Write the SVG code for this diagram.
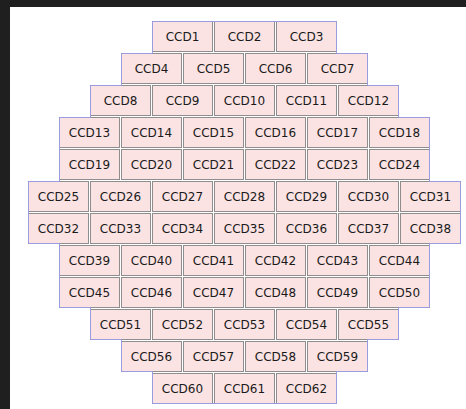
<svg xmlns="http://www.w3.org/2000/svg" width="466" height="409" viewBox="0 0 466 409">
<style>
.b{fill:#fce3e3;stroke:#8e8e8e;stroke-width:1}
.t{font-family:"DejaVu Sans","Liberation Sans",sans-serif;font-size:12px;fill:#1a1a1a;text-anchor:middle}
</style>
<rect x="0" y="0" width="466" height="409" fill="#ffffff"/>
<rect x="0" y="0" width="466" height="7" fill="#1f1f1f"/>
<rect x="0" y="0" width="10" height="409" fill="#1f1f1f"/>
<g id="CCD1"><rect class="b" x="152.5" y="21.5" width="60" height="30"/><text class="t" x="182.5" y="41">CCD1</text></g>
<g id="CCD2"><rect class="b" x="214.5" y="21.5" width="60" height="30"/><text class="t" x="244.5" y="41">CCD2</text></g>
<g id="CCD3"><rect class="b" x="276.5" y="21.5" width="60" height="30"/><text class="t" x="306.5" y="41">CCD3</text></g>
<g id="CCD4"><rect class="b" x="121.5" y="53.5" width="60" height="30"/><text class="t" x="151.5" y="73">CCD4</text></g>
<g id="CCD5"><rect class="b" x="183.5" y="53.5" width="60" height="30"/><text class="t" x="213.5" y="73">CCD5</text></g>
<g id="CCD6"><rect class="b" x="245.5" y="53.5" width="60" height="30"/><text class="t" x="275.5" y="73">CCD6</text></g>
<g id="CCD7"><rect class="b" x="307.5" y="53.5" width="60" height="30"/><text class="t" x="337.5" y="73">CCD7</text></g>
<g id="CCD8"><rect class="b" x="90.5" y="85.5" width="60" height="30"/><text class="t" x="120.5" y="105">CCD8</text></g>
<g id="CCD9"><rect class="b" x="152.5" y="85.5" width="60" height="30"/><text class="t" x="182.5" y="105">CCD9</text></g>
<g id="CCD10"><rect class="b" x="214.5" y="85.5" width="60" height="30"/><text class="t" x="244.5" y="105">CCD10</text></g>
<g id="CCD11"><rect class="b" x="276.5" y="85.5" width="60" height="30"/><text class="t" x="306.5" y="105">CCD11</text></g>
<g id="CCD12"><rect class="b" x="338.5" y="85.5" width="60" height="30"/><text class="t" x="368.5" y="105">CCD12</text></g>
<g id="CCD13"><rect class="b" x="59.5" y="117.5" width="60" height="30"/><text class="t" x="89.5" y="137">CCD13</text></g>
<g id="CCD14"><rect class="b" x="121.5" y="117.5" width="60" height="30"/><text class="t" x="151.5" y="137">CCD14</text></g>
<g id="CCD15"><rect class="b" x="183.5" y="117.5" width="60" height="30"/><text class="t" x="213.5" y="137">CCD15</text></g>
<g id="CCD16"><rect class="b" x="245.5" y="117.5" width="60" height="30"/><text class="t" x="275.5" y="137">CCD16</text></g>
<g id="CCD17"><rect class="b" x="307.5" y="117.5" width="60" height="30"/><text class="t" x="337.5" y="137">CCD17</text></g>
<g id="CCD18"><rect class="b" x="369.5" y="117.5" width="60" height="30"/><text class="t" x="399.5" y="137">CCD18</text></g>
<g id="CCD19"><rect class="b" x="59.5" y="149.5" width="60" height="30"/><text class="t" x="89.5" y="169">CCD19</text></g>
<g id="CCD20"><rect class="b" x="121.5" y="149.5" width="60" height="30"/><text class="t" x="151.5" y="169">CCD20</text></g>
<g id="CCD21"><rect class="b" x="183.5" y="149.5" width="60" height="30"/><text class="t" x="213.5" y="169">CCD21</text></g>
<g id="CCD22"><rect class="b" x="245.5" y="149.5" width="60" height="30"/><text class="t" x="275.5" y="169">CCD22</text></g>
<g id="CCD23"><rect class="b" x="307.5" y="149.5" width="60" height="30"/><text class="t" x="337.5" y="169">CCD23</text></g>
<g id="CCD24"><rect class="b" x="369.5" y="149.5" width="60" height="30"/><text class="t" x="399.5" y="169">CCD24</text></g>
<g id="CCD25"><rect class="b" x="28.5" y="181.5" width="60" height="30"/><text class="t" x="58.5" y="201">CCD25</text></g>
<g id="CCD26"><rect class="b" x="90.5" y="181.5" width="60" height="30"/><text class="t" x="120.5" y="201">CCD26</text></g>
<g id="CCD27"><rect class="b" x="152.5" y="181.5" width="60" height="30"/><text class="t" x="182.5" y="201">CCD27</text></g>
<g id="CCD28"><rect class="b" x="214.5" y="181.5" width="60" height="30"/><text class="t" x="244.5" y="201">CCD28</text></g>
<g id="CCD29"><rect class="b" x="276.5" y="181.5" width="60" height="30"/><text class="t" x="306.5" y="201">CCD29</text></g>
<g id="CCD30"><rect class="b" x="338.5" y="181.5" width="60" height="30"/><text class="t" x="368.5" y="201">CCD30</text></g>
<g id="CCD31"><rect class="b" x="400.5" y="181.5" width="60" height="30"/><text class="t" x="430.5" y="201">CCD31</text></g>
<g id="CCD32"><rect class="b" x="28.5" y="213.5" width="60" height="30"/><text class="t" x="58.5" y="233">CCD32</text></g>
<g id="CCD33"><rect class="b" x="90.5" y="213.5" width="60" height="30"/><text class="t" x="120.5" y="233">CCD33</text></g>
<g id="CCD34"><rect class="b" x="152.5" y="213.5" width="60" height="30"/><text class="t" x="182.5" y="233">CCD34</text></g>
<g id="CCD35"><rect class="b" x="214.5" y="213.5" width="60" height="30"/><text class="t" x="244.5" y="233">CCD35</text></g>
<g id="CCD36"><rect class="b" x="276.5" y="213.5" width="60" height="30"/><text class="t" x="306.5" y="233">CCD36</text></g>
<g id="CCD37"><rect class="b" x="338.5" y="213.5" width="60" height="30"/><text class="t" x="368.5" y="233">CCD37</text></g>
<g id="CCD38"><rect class="b" x="400.5" y="213.5" width="60" height="30"/><text class="t" x="430.5" y="233">CCD38</text></g>
<g id="CCD39"><rect class="b" x="59.5" y="245.5" width="60" height="30"/><text class="t" x="89.5" y="265">CCD39</text></g>
<g id="CCD40"><rect class="b" x="121.5" y="245.5" width="60" height="30"/><text class="t" x="151.5" y="265">CCD40</text></g>
<g id="CCD41"><rect class="b" x="183.5" y="245.5" width="60" height="30"/><text class="t" x="213.5" y="265">CCD41</text></g>
<g id="CCD42"><rect class="b" x="245.5" y="245.5" width="60" height="30"/><text class="t" x="275.5" y="265">CCD42</text></g>
<g id="CCD43"><rect class="b" x="307.5" y="245.5" width="60" height="30"/><text class="t" x="337.5" y="265">CCD43</text></g>
<g id="CCD44"><rect class="b" x="369.5" y="245.5" width="60" height="30"/><text class="t" x="399.5" y="265">CCD44</text></g>
<g id="CCD45"><rect class="b" x="59.5" y="277.5" width="60" height="30"/><text class="t" x="89.5" y="297">CCD45</text></g>
<g id="CCD46"><rect class="b" x="121.5" y="277.5" width="60" height="30"/><text class="t" x="151.5" y="297">CCD46</text></g>
<g id="CCD47"><rect class="b" x="183.5" y="277.5" width="60" height="30"/><text class="t" x="213.5" y="297">CCD47</text></g>
<g id="CCD48"><rect class="b" x="245.5" y="277.5" width="60" height="30"/><text class="t" x="275.5" y="297">CCD48</text></g>
<g id="CCD49"><rect class="b" x="307.5" y="277.5" width="60" height="30"/><text class="t" x="337.5" y="297">CCD49</text></g>
<g id="CCD50"><rect class="b" x="369.5" y="277.5" width="60" height="30"/><text class="t" x="399.5" y="297">CCD50</text></g>
<g id="CCD51"><rect class="b" x="90.5" y="309.5" width="60" height="30"/><text class="t" x="120.5" y="329">CCD51</text></g>
<g id="CCD52"><rect class="b" x="152.5" y="309.5" width="60" height="30"/><text class="t" x="182.5" y="329">CCD52</text></g>
<g id="CCD53"><rect class="b" x="214.5" y="309.5" width="60" height="30"/><text class="t" x="244.5" y="329">CCD53</text></g>
<g id="CCD54"><rect class="b" x="276.5" y="309.5" width="60" height="30"/><text class="t" x="306.5" y="329">CCD54</text></g>
<g id="CCD55"><rect class="b" x="338.5" y="309.5" width="60" height="30"/><text class="t" x="368.5" y="329">CCD55</text></g>
<g id="CCD56"><rect class="b" x="121.5" y="341.5" width="60" height="30"/><text class="t" x="151.5" y="361">CCD56</text></g>
<g id="CCD57"><rect class="b" x="183.5" y="341.5" width="60" height="30"/><text class="t" x="213.5" y="361">CCD57</text></g>
<g id="CCD58"><rect class="b" x="245.5" y="341.5" width="60" height="30"/><text class="t" x="275.5" y="361">CCD58</text></g>
<g id="CCD59"><rect class="b" x="307.5" y="341.5" width="60" height="30"/><text class="t" x="337.5" y="361">CCD59</text></g>
<g id="CCD60"><rect class="b" x="152.5" y="373.5" width="60" height="30"/><text class="t" x="182.5" y="393">CCD60</text></g>
<g id="CCD61"><rect class="b" x="214.5" y="373.5" width="60" height="30"/><text class="t" x="244.5" y="393">CCD61</text></g>
<g id="CCD62"><rect class="b" x="276.5" y="373.5" width="60" height="30"/><text class="t" x="306.5" y="393">CCD62</text></g>
<g id="outline"><polygon fill="none" stroke="#9a9ce0" stroke-width="1" points="152.5,21.5 336.5,21.5 336.5,53.5 367.5,53.5 367.5,85.5 398.5,85.5 398.5,117.5 429.5,117.5 429.5,181.5 460.5,181.5 460.5,243.5 429.5,243.5 429.5,307.5 398.5,307.5 398.5,339.5 367.5,339.5 367.5,371.5 336.5,371.5 336.5,403.5 152.5,403.5 152.5,371.5 121.5,371.5 121.5,339.5 90.5,339.5 90.5,307.5 59.5,307.5 59.5,243.5 28.5,243.5 28.5,181.5 59.5,181.5 59.5,117.5 90.5,117.5 90.5,85.5 121.5,85.5 121.5,53.5 152.5,53.5"/></g>
</svg>
